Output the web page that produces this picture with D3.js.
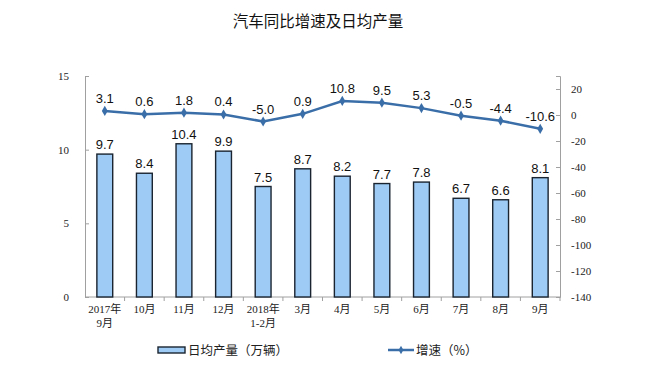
<!DOCTYPE html>
<html><head><meta charset="utf-8">
<script src="https://cdn.jsdelivr.net/npm/d3@7"></script>
<style>body{margin:0;background:#fff}</style>
</head><body><svg id="c" width="666" height="383"></svg>
<script>
const categories = ["2017年\n9月","10月","11月","12月","2018年\n1-2月","3月","4月","5月","6月","7月","8月","9月"];
const output = [9.7,8.4,10.4,9.9,7.5,8.7,8.2,7.7,7.8,6.7,6.6,8.1];
const growth = [3.1,0.6,1.8,0.4,-5.0,0.9,10.8,9.5,5.3,-0.5,-4.4,-10.6];
const leftTicks = [0,5,10,15];
const rightTicks = [-140,-120,-100,-80,-60,-40,-20,0,20];
const title = "汽车同比增速及日均产量";
const legendLabels = ["日均产量（万辆）","增速（%）"];

const svg = d3.select("#c");
const L = 85, R = 560, T = 76, B = 297;
const numFont = "'Liberation Serif','Noto Sans CJK SC',serif";
const lblFont = "'Liberation Sans',Arial,sans-serif";
const cjk = "'Noto Sans CJK SC',sans-serif";
const axisColor = "#a0a0a0";

const x = d3.scaleBand().domain(categories).range([L, R]).paddingInner(0.6).paddingOuter(0.3);
const xb = d3.scaleBand().domain(categories).range([L, R]);
const yL = d3.scaleLinear().domain([0,15]).range([B, T]);
const yR = d3.scaleLinear().domain([-140,30]).range([B, T]);

svg.append("text").attr("x", 318).attr("y", 27).attr("text-anchor","middle")
  .attr("font-family", cjk).attr("font-size", 15.5).attr("fill","#111").text(title);

// axes
const gl = svg.append("g").attr("transform",`translate(${L},0)`)
  .call(d3.axisRight(yL).tickValues(leftTicks).tickSize(4).tickFormat(d3.format("d")));
gl.selectAll("text").remove();
svg.append("g").selectAll("text").data(leftTicks).join("text")
  .attr("x", 69).attr("y", d=>yL(d)+4).attr("text-anchor","end")
  .attr("font-family", numFont).attr("font-size", 11).attr("fill","#222").text(d=>d);

const gr = svg.append("g").attr("transform",`translate(${R},0)`)
  .call(d3.axisLeft(yR).tickValues(rightTicks).tickSize(4).tickFormat(d3.format("d")));
gr.selectAll("text").remove();
svg.append("g").selectAll("text").data(rightTicks).join("text")
  .attr("x", 571).attr("y", d=>yR(d)+4).attr("text-anchor","start")
  .attr("font-family", numFont).attr("font-size", 11).attr("fill","#222").text(d=>d);

[gl, gr].forEach(g=>{
  g.select(".domain").attr("stroke", axisColor);
  g.selectAll(".tick line").attr("stroke", axisColor);
});

// bottom axis with ticks between categories
const gb = svg.append("g").attr("transform",`translate(0,${B})`);
gb.append("line").attr("x1",L).attr("x2",R).attr("stroke",axisColor);
gb.selectAll("line.t").data(categories).join("line").attr("class","t")
  .attr("x1", d=>xb(d)+xb.bandwidth()).attr("x2", d=>xb(d)+xb.bandwidth())
  .attr("y1",0).attr("y2",4).attr("stroke",axisColor);
gb.selectAll("text").data(categories).join("text")
  .attr("text-anchor","middle").attr("font-family", numFont).attr("font-size", 11).attr("fill","#222")
  .each(function(d){
    const t = d3.select(this);
    d.split("\n").forEach((s,i)=>{
      t.append("tspan").attr("x", xb(d)+xb.bandwidth()/2).attr("y", 16+i*14).text(s);
    });
  });

// bars
svg.append("g").selectAll("rect").data(output).join("rect")
  .attr("x",(d,i)=>x(categories[i])).attr("width",x.bandwidth())
  .attr("y",d=>yL(d)).attr("height",d=>B-yL(d))
  .attr("fill","#9dcbf5").attr("stroke","#1a2430").attr("stroke-width",1.4);
svg.append("g").selectAll("text").data(output).join("text")
  .attr("x",(d,i)=>x(categories[i])+x.bandwidth()/2).attr("y",d=>yL(d)-5)
  .attr("text-anchor","middle").attr("font-family",lblFont).attr("font-size",13).attr("fill","#111")
  .text(d=>d.toFixed(1));

// line
const cx = i => xb(categories[i]) + xb.bandwidth()/2;
const lineColor = "#3a6ea8";
svg.append("path").datum(growth)
  .attr("d", d3.line().x((d,i)=>cx(i)).y(d=>yR(d)))
  .attr("fill","none").attr("stroke",lineColor).attr("stroke-width",2.5);
svg.append("g").selectAll("path").data(growth).join("path")
  .attr("d", d3.symbol(d3.symbolDiamond, 30))
  .attr("transform",(d,i)=>`translate(${cx(i)},${yR(d)})`).attr("fill",lineColor);
svg.append("g").selectAll("text").data(growth).join("text")
  .attr("x",(d,i)=>cx(i)).attr("y",d=>yR(d)-8)
  .attr("text-anchor","middle").attr("font-family",lblFont).attr("font-size",13).attr("fill","#111")
  .text(d=>d.toFixed(1));

// legend
const lg = svg.append("g");
lg.append("rect").attr("x",158).attr("y",347).attr("width",27).attr("height",6)
  .attr("fill","#9dcbf5").attr("stroke","#1a2430").attr("stroke-width",1.4);
lg.append("text").attr("x",188).attr("y",355).attr("font-family",cjk).attr("font-size",12.5).attr("fill","#222").text(legendLabels[0]);
lg.append("line").attr("x1",388).attr("x2",414).attr("y1",350).attr("y2",350).attr("stroke",lineColor).attr("stroke-width",2.5);
lg.append("path").attr("d", d3.symbol(d3.symbolDiamond, 20)).attr("transform","translate(401,350)").attr("fill",lineColor);
lg.append("text").attr("x",416).attr("y",355).attr("font-family",cjk).attr("font-size",12.5).attr("fill","#222").text(legendLabels[1]);
</script></body></html>
